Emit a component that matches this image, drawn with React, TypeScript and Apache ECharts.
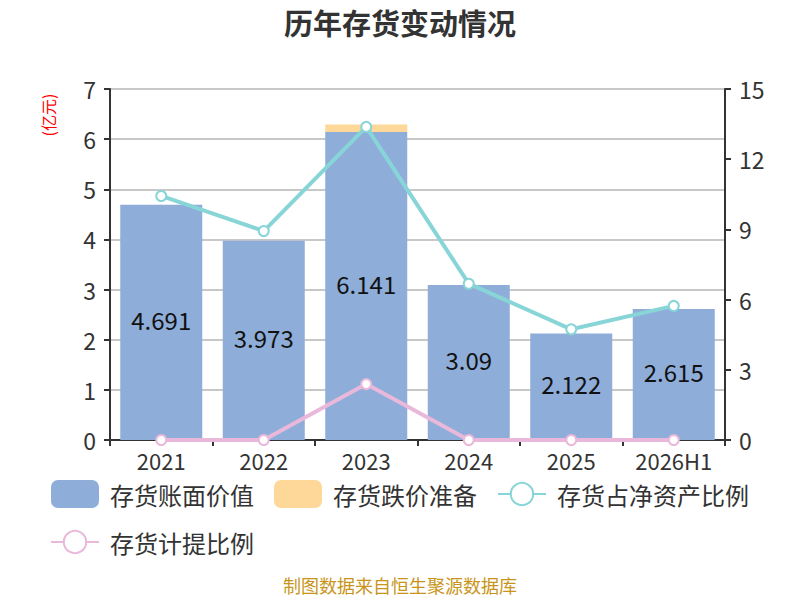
import React, { useEffect, useRef } from "react";
import * as echarts from "echarts";

const categories = ["2021", "2022", "2023", "2024", "2025", "2026H1"];
const bookValue = [4.691, 3.973, 6.141, 3.09, 2.122, 2.615];
const impairment = [0, 0, 0.15, 0, 0, 0];
const ratioNetAssets = [10.43, 8.93, 13.38, 6.68, 4.73, 5.73];
const ratioProvision = [0, 0, 2.39, 0, 0, 0];
const leftTicks = { min: 0, max: 7, interval: 1 };
const rightTicks = { min: 0, max: 15, interval: 3 };

export default function App() {
  const ref = useRef<HTMLDivElement>(null);
  useEffect(() => {
    document.body.style.margin = "0";
    if (!ref.current) return;
    const chart = echarts.init(ref.current, null, { renderer: "svg" });
    const font = "'Noto Sans CJK SC', 'Noto Sans', sans-serif";
    chart.setOption({
      animation: false,
      textStyle: { fontFamily: font },
      title: {
        text: "历年存货变动情况",
        left: "center",
        top: 2,
        textStyle: { fontSize: 29, fontWeight: "bold", color: "#333", fontFamily: font },
      },
      grid: { left: 110, right: 75, top: 89, bottom: 160 },
      legend: {
        left: 45,
        right: 40,
        top: 475,
        itemWidth: 48,
        itemHeight: 28,
        itemGap: 20,
        textStyle: { fontSize: 24, lineHeight: 24, color: "#333", fontFamily: font, padding: [0, 0, 0, 6] },
        data: [
          { name: "存货账面价值", icon: "roundRect" },
          { name: "存货跌价准备", icon: "roundRect" },
          { name: "存货占净资产比例" },
          { name: "存货计提比例" },
        ],
      },
      graphic: [
        {
          type: "text",
          x: 48,
          y: 115,
          rotation: Math.PI / 2,
          style: {
            text: "(亿元)",
            fill: "#ff0000",
            fontSize: 16,
            fontFamily: font,
            align: "center",
            verticalAlign: "middle",
          },
        },
        {
          type: "text",
          x: 806,
          y: 100,
          rotation: Math.PI / 2,
          style: {
            text: "(%)",
            fill: "#ff0000",
            fontSize: 16,
            fontFamily: font,
            align: "center",
            verticalAlign: "middle",
          },
        },
        {
          type: "text",
          left: "center",
          top: 576,
          style: {
            text: "制图数据来自恒生聚源数据库",
            fill: "#c8951a",
            fontSize: 18,
            fontFamily: font,
          },
        },
      ],
      xAxis: {
        type: "category",
        data: categories,
        axisLine: { lineStyle: { color: "#333", width: 2 } },
        axisTick: { show: true, alignWithLabel: false, length: 6, lineStyle: { color: "#333", width: 2 } },
        axisLabel: { fontSize: 22, lineHeight: 20, color: "#333", margin: 10, interval: 0 },
      },
      yAxis: [
        {
          type: "value",
          min: leftTicks.min,
          max: leftTicks.max,
          interval: leftTicks.interval,
          axisLine: { show: true, lineStyle: { color: "#333", width: 2 } },
          axisTick: { show: true, length: 6, lineStyle: { color: "#333", width: 2 } },
          axisLabel: { fontSize: 23, color: "#333", margin: 14 },
          splitLine: { lineStyle: { color: "#c8c8c8", width: 2 } },
        },
        {
          type: "value",
          min: rightTicks.min,
          max: rightTicks.max,
          interval: rightTicks.interval,
          position: "right",
          axisLine: { show: true, lineStyle: { color: "#333", width: 2 } },
          axisTick: { show: true, length: 6, lineStyle: { color: "#333", width: 2 } },
          axisLabel: { fontSize: 23, color: "#333", margin: 14 },
          splitLine: { show: false },
        },
      ],
      series: [
        {
          name: "存货账面价值",
          type: "bar",
          stack: "inv",
          barWidth: "80%",
          data: bookValue,
          itemStyle: { color: "#8eadd9" },
          label: { show: true, position: "inside", fontSize: 24, color: "#111", fontFamily: font, offset: [0, -3] },
        },
        {
          name: "存货跌价准备",
          type: "bar",
          stack: "inv",
          barWidth: "80%",
          data: impairment,
          itemStyle: { color: "#fdd898" },
        },
        {
          name: "存货占净资产比例",
          type: "line",
          yAxisIndex: 1,
          data: ratioNetAssets,
          symbol: "emptyCircle",
          symbolSize: 10,
          lineStyle: { color: "#88d5d8", width: 4 },
          itemStyle: { color: "#88d5d8", borderWidth: 2 },
        },
        {
          name: "存货计提比例",
          type: "line",
          yAxisIndex: 1,
          data: ratioProvision,
          symbol: "emptyCircle",
          symbolSize: 10,
          lineStyle: { color: "#e9b8da", width: 4 },
          itemStyle: { color: "#e9b8da", borderWidth: 2 },
        },
      ],
    });
    return () => chart.dispose();
  }, []);
  return <div ref={ref} style={{ width: 800, height: 600 }} />;
}
